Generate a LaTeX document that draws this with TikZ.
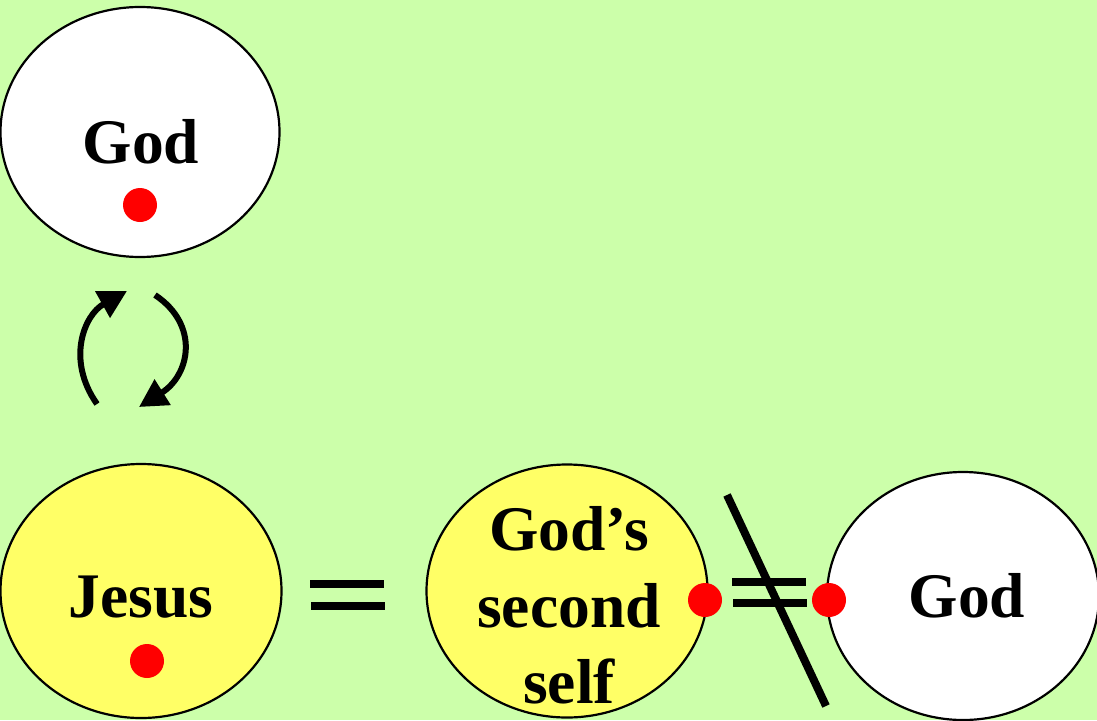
\documentclass[tikz,border=0pt]{standalone}
\usepackage{fontspec}
\setmainfont{Liberation Serif}
\usetikzlibrary{shapes.geometric,arrows.meta}
\definecolor{bggreen}{HTML}{CCFFAA}
\definecolor{selfyellow}{HTML}{FFFF66}
\tikzset{
  oval/.style={draw=black, line width=2.2pt, ellipse, inner sep=0pt},
  dot/.style={circle, fill=red, draw=none, minimum size=34pt, inner sep=0pt},
  lbl/.style={anchor=base, inner sep=0pt, font=\fontsize{63.5}{70}\selectfont\bfseries},
  bar/.style={line width=8pt},
  cyc/.style={line width=6pt, -{Triangle[length=28pt,width=29pt]}}
}
\begin{document}
\begin{tikzpicture}[x=1pt,y=-1pt]
\useasboundingbox (0,0) rectangle (1097,720);
\clip (0,0) rectangle (1097,720);
\fill[bggreen] (0,0) rectangle (1097,720);
% ellipses
\node[oval, fill=white, minimum width=279pt, minimum height=250pt] (godtop) at (140,132) {};
\node[oval, fill=selfyellow, minimum width=281pt, minimum height=254pt] (jesus) at (141,591) {};
\node[oval, fill=selfyellow, minimum width=281pt, minimum height=253pt] (second) at (567,591) {};
\node[oval, fill=white, minimum width=272pt, minimum height=248pt] (godright) at (963,596) {};
% labels
\node[lbl] (tgod) at (141,163) {God};
\node[lbl] (tjesus) at (141,617) {Jesus};
\node[lbl] (ts1) at (569,550) {God’s};
\node[lbl] (ts2) at (569,627) {second};
\node[lbl] (ts3) at (569,703) {self};
\node[lbl] (tgod2) at (967,617) {God};
% dots
\node[dot] (d1) at (140,205) {};
\node[dot] (d2) at (147,661) {};
\node[dot] (d3) at (705,600) {};
\node[dot] (d4) at (829,600) {};
% cycle arrows
\coordinate (a1s) at (97,404);
\coordinate (a1e) at (127,291);
\coordinate (a2s) at (155,295);
\coordinate (a2e) at (139,407);
\draw[cyc] (a1s) .. controls (66,360) and (84,315) .. (a1e);
\draw[cyc] (a2s) .. controls (200,325) and (190,375) .. (a2e);
% equals
\coordinate (e1a) at (310,584); \coordinate (e1b) at (384,584);
\coordinate (e2a) at (311,606); \coordinate (e2b) at (385,606);
\draw[bar] (e1a) -- (e1b);
\draw[bar] (e2a) -- (e2b);
% not equal
\coordinate (n1a) at (732,582); \coordinate (n1b) at (806,582);
\coordinate (n2a) at (733,603); \coordinate (n2b) at (807,603);
\coordinate (sa) at (727,495); \coordinate (sb) at (826,706);
\draw[bar] (n1a) -- (n1b);
\draw[bar] (n2a) -- (n2b);
\draw[bar] (sa) -- (sb);
\end{tikzpicture}
\end{document}
